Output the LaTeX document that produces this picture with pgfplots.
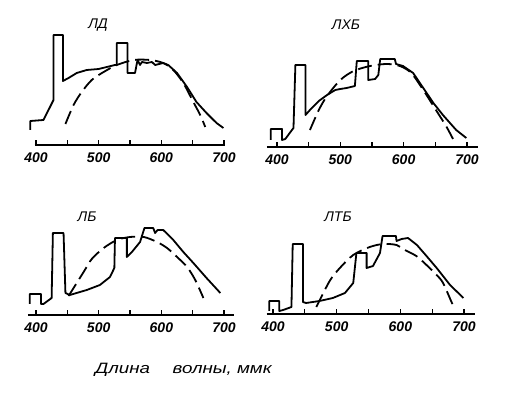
\documentclass[border=0pt]{standalone}
\usepackage{fontspec}
\setmainfont{Liberation Sans}
\usepackage{pgfplots}
\pgfplotsset{compat=1.18}
\pgfplotsset{
  panel/.style={
    scale only axis, clip=false,
    axis x line=bottom, axis y line=none,
    axis line style={line width=1.6pt,-},
    xtick align=inside, major tick length=5pt,
    tick style={line width=1.3pt,black},
    xtick={400,450,...,700},
    xticklabels={400,,500,,600,,700},
    /pgf/number format/assume math mode=true,
    xticklabel style={font=\bfseries\itshape\fontsize{14}{14}\selectfont, yshift=-4pt},
    ymin=0, ymax=120, height=120pt,
    anchor=south west,
  },
  sol/.style={black, line width=1.8pt, line join=round, no marks},
  das/.style={black, line width=1.8pt, dash pattern=on 14pt off 6pt, no marks, smooth},
}
\begin{document}
\begin{tikzpicture}
\path[use as bounding box] (0pt,0pt) rectangle (527pt,393pt);
% ---- ЛД
\begin{axis}[panel, at={(34.7pt,248pt)}, xmin=398, xmax=702, width=190.6pt]
\addplot[sol] coordinates {(391,15)(391,24)(412,25)(428,45)(428,110)(443,110)(443,64)
(452,67)(465,72)(481,75)(500,76)(513,78)(526,80)(529,80)(529,102)(546,102)(546,72)
(558,72)(562,85)(566,80)(569,83)(577,82)(585,83)(590,80)(603,82)(611,80)(625,72)
(641,58)(656,43)(672,32)(688,22)(699,17)};
\addplot[das] coordinates {(447,21)(460,40)(473,53)(489,65)(508,73)(529,80)(556,85)
(582,85)(603,82)(619,75)(635,62)(651,43)(662,30)(670,18)};
\end{axis}
% ---- ЛХБ
\begin{axis}[panel, at={(266.9pt,246pt)}, xmin=384, xmax=717, width=210.8pt]
\addplot[sol] coordinates {(390,7)(390,18)(408,18)(408,7)(413,8)(426,19)(429,82)(445,82)
(445,32)(452,37)(466,46)(479,52)(492,57)(500,58)(510,59)(523,61)(526,86)(544,86)(544,67)
(555,68)(560,72)(563,88)(586,88)(588,83)(599,81)(615,74)(631,59)(647,44)(662,32)(683,17)(699,9)};
\addplot[das] coordinates {(452,17)(466,37)(479,51)(500,67)(521,76)(547,81)(573,83)
(594,81)(612,74)(631,57)(652,36)(667,21)(678,8)};
\end{axis}
% ---- ЛБ
\begin{axis}[panel, at={(27.8pt,78pt)}, xmin=387, xmax=715, width=205.7pt]
\addplot[sol] coordinates {(390,11)(390,21)(408,21)(408,11)(412,11)(425,17)(427,82)(444,82)
(447,22)(454,20)(481,25)(502,30)(518,38)(525,47)(526,77)(545,77)(545,58)(553,63)(566,73)
(573,87)(587,87)(590,82)(594,85)(603,85)(619,75)(635,63)(651,52)(672,37)(694,22)};
\addplot[das] coordinates {(452,19)(476,43)(489,56)(508,67)(529,75)(550,78)(572,78)
(593,73)(609,67)(625,58)(641,48)(654,35)(667,17)};
\end{axis}
% ---- ЛТБ
\begin{axis}[panel, at={(266.6pt,79pt)}, xmin=390, xmax=717, width=208.3pt]
\addplot[sol] coordinates {(394,3)(394,13)(410,13)(410,3)(416,4)(429,7)(431,70)(447,70)
(447,12)(452,11)(473,13)(494,16)(513,21)(526,31)(531,61)(547,61)(547,46)(557,48)(568,61)
(572,78)(593,78)(594,73)(602,75)(612,76)(626,69)(641,58)(657,46)(678,29)(699,16)};
\addplot[das] coordinates {(468,7)(489,33)(505,46)(526,59)(552,67)(573,70)(594,69)
(607,64)(625,58)(641,49)(657,39)(667,31)(681,11)(686,5)};
\end{axis}
% titles
\begin{scope}[every node/.style={font=\itshape\fontsize{14}{14}\selectfont}]
\node at (98pt,368pt) {ЛД};
\node at (346pt,368pt) {ЛХБ};
\node at (87pt,176pt) {ЛБ};
\node at (338pt,176pt) {ЛТБ};
\node[anchor=west, font=\itshape\fontsize{15}{15}\selectfont, inner sep=0pt] at (95pt,23pt)
  {\scalebox{1.25}[1]{Длина\hspace{18pt}волны, ммк}};
\end{scope}
\end{tikzpicture}
\end{document}
